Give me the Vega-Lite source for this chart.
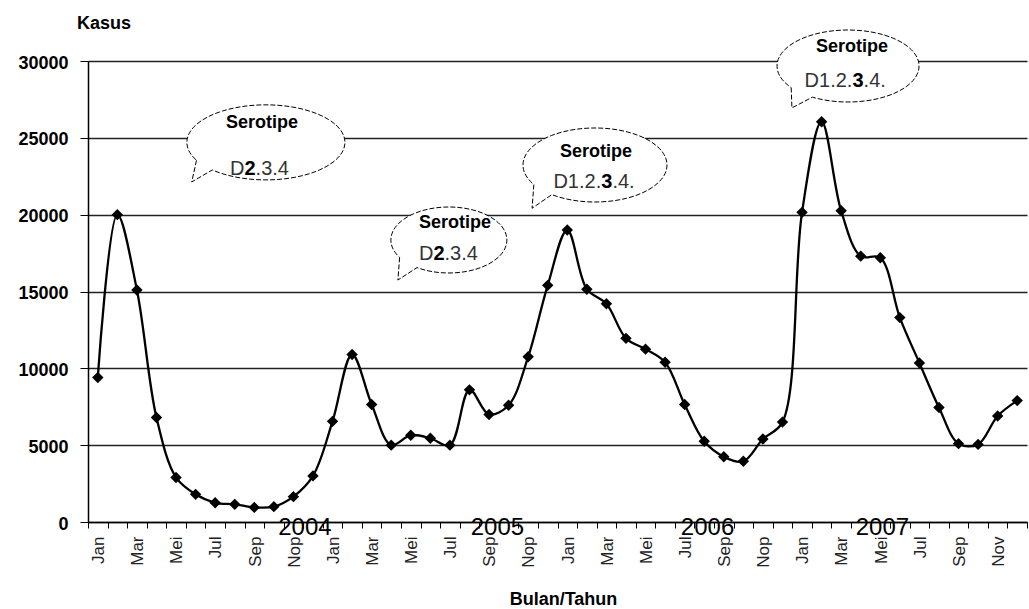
{
  "$schema": "https://vega.github.io/schema/vega-lite/v6.json",
  "width": 939,
  "height": 461,
  "autosize": {"type": "none"},
  "padding": {"left": 88, "top": 61, "right": 2, "bottom": 87},
  "background": "white",
  "config": {
    "view": {"stroke": null},
    "font": "Liberation Sans",
    "text": {"font": "Liberation Sans"}
  },
  "datasets": {
    "kasusbulan": [
      {"bulan": 0.5, "kasus": 9400},
      {"bulan": 1.5, "kasus": 20000},
      {"bulan": 2.5, "kasus": 15100},
      {"bulan": 3.5, "kasus": 6800},
      {"bulan": 4.5, "kasus": 2900},
      {"bulan": 5.5, "kasus": 1800},
      {"bulan": 6.5, "kasus": 1250},
      {"bulan": 7.5, "kasus": 1150},
      {"bulan": 8.5, "kasus": 950},
      {"bulan": 9.5, "kasus": 1000},
      {"bulan": 10.5, "kasus": 1650},
      {"bulan": 11.5, "kasus": 3000},
      {"bulan": 12.5, "kasus": 6550},
      {"bulan": 13.5, "kasus": 10900},
      {"bulan": 14.5, "kasus": 7650},
      {"bulan": 15.5, "kasus": 5000},
      {"bulan": 16.5, "kasus": 5650},
      {"bulan": 17.5, "kasus": 5450},
      {"bulan": 18.5, "kasus": 5000},
      {"bulan": 19.5, "kasus": 8600},
      {"bulan": 20.5, "kasus": 7000},
      {"bulan": 21.5, "kasus": 7600},
      {"bulan": 22.5, "kasus": 10750},
      {"bulan": 23.5, "kasus": 15400},
      {"bulan": 24.5, "kasus": 19000},
      {"bulan": 25.5, "kasus": 15150},
      {"bulan": 26.5, "kasus": 14200},
      {"bulan": 27.5, "kasus": 11950},
      {"bulan": 28.5, "kasus": 11250},
      {"bulan": 29.5, "kasus": 10400},
      {"bulan": 30.5, "kasus": 7650},
      {"bulan": 31.5, "kasus": 5250},
      {"bulan": 32.5, "kasus": 4250},
      {"bulan": 33.5, "kasus": 3950},
      {"bulan": 34.5, "kasus": 5400},
      {"bulan": 35.5, "kasus": 6500},
      {"bulan": 36.5, "kasus": 20150},
      {"bulan": 37.5, "kasus": 26050},
      {"bulan": 38.5, "kasus": 20250},
      {"bulan": 39.5, "kasus": 17300},
      {"bulan": 40.5, "kasus": 17200},
      {"bulan": 41.5, "kasus": 13300},
      {"bulan": 42.5, "kasus": 10350},
      {"bulan": 43.5, "kasus": 7450},
      {"bulan": 44.5, "kasus": 5100},
      {"bulan": 45.5, "kasus": 5050},
      {"bulan": 46.5, "kasus": 6900},
      {"bulan": 47.5, "kasus": 7900}
    ],
    "balon": [
      {"balon": "b1", "bulan": 9.10, "kasus": 24700},
      {"balon": "b2", "bulan": 18.45, "kasus": 18350},
      {"balon": "b3", "bulan": 25.92, "kasus": 23230},
      {"balon": "b4", "bulan": 38.85, "kasus": 29675}
    ],
    "judul": [
      {"bulan": 8.89, "kasus": 25640, "teks": "Serotipe"},
      {"bulan": 18.76, "kasus": 19130, "teks": "Serotipe"},
      {"bulan": 25.97, "kasus": 23750, "teks": "Serotipe"},
      {"bulan": 39.05, "kasus": 30590, "teks": "Serotipe"}
    ],
    "serotipe": [
      {"bulan": 8.28, "kasus": 22580, "depan": "D", "tebal": "2", "belakang": ".3.4"},
      {"bulan": 17.94, "kasus": 17050, "depan": "D", "tebal": "2", "belakang": ".3.4"},
      {"bulan": 26.52, "kasus": 21735, "depan": "D1.2.", "tebal": "3", "belakang": ".4."},
      {"bulan": 39.36, "kasus": 28310, "depan": "D1.2.", "tebal": "3", "belakang": ".4."}
    ],
    "tahun": [
      {"bulan": 11.09, "kasus": -846, "teks": "2004"},
      {"bulan": 20.93, "kasus": -846, "teks": "2005"},
      {"bulan": 31.67, "kasus": -846, "teks": "2006"},
      {"bulan": 40.61, "kasus": -846, "teks": "2007"}
    ]
  },
  "encoding": {
    "x": {
      "field": "bulan", "type": "quantitative",
      "scale": {"domain": [0, 48], "nice": false, "zero": false},
      "axis": {
        "title": "Bulan/Tahun",
        "titleFont": "Liberation Sans", "titleFontSize": 18, "titleFontWeight": "bold", "titleColor": "black",
        "titleX": 475, "titleY": 82, "titleBaseline": "alphabetic",
        "values": [0,1,2,3,4,5,6,7,8,9,10,11,12,13,14,15,16,17,18,19,20,21,22,23,24,25,26,27,28,29,30,31,32,33,34,35,36,37,38,39,40,41,42,43,44,45,46,47,48],
        "labelExpr": "datum.value >= 48 ? '' : (datum.value == 46 ? 'Nov' : ['Jan','','Mar','','Mei','','Jul','','Sep','','Nop',''][datum.value % 12])",
        "labelAngle": 270, "labelAlign": "right", "labelBaseline": "middle",
        "labelFont": "Liberation Sans", "labelFontSize": 17, "labelColor": "#222",
        "labelPadding": 8, "labelOverlap": false, "labelFlush": false, "labelBound": false,
        "labelOffset": 10.5,
        "tickSize": 6, "tickColor": "black", "tickWidth": 1,
        "domainColor": "black", "domainWidth": 1.5, "grid": false
      }
    },
    "y": {
      "field": "kasus", "type": "quantitative",
      "scale": {"domain": [0, 30000], "nice": false, "zero": false},
      "axis": {
        "title": "Kasus", "titleAngle": 0, "titleX": 15.5, "titleY": -33,
        "titleAlign": "center", "titleBaseline": "alphabetic",
        "titleFont": "Liberation Sans", "titleFontSize": 18, "titleFontWeight": "bold", "titleColor": "black",
        "values": [0, 5000, 10000, 15000, 20000, 25000, 30000],
        "format": "d",
        "labelFont": "Liberation Sans", "labelFontSize": 18, "labelFontWeight": "bold", "labelColor": "black",
        "labelPadding": 12, "labelOffset": 2,
        "tickSize": 8, "tickColor": "black", "tickWidth": 1,
        "domainColor": "black", "domainWidth": 1.5,
        "grid": true, "gridColor": "#222", "gridWidth": 1.3
      }
    }
  },
  "layer": [
    {
      "data": {"name": "balon"},
      "mark": {"type": "point", "filled": true, "fill": "white", "stroke": "black", "strokeWidth": 1, "strokeDash": [5, 2], "opacity": 1, "fillOpacity": 1},
      "encoding": {
        "shape": {
          "field": "balon", "type": "nominal", "legend": null,
          "scale": {
            "domain": ["b1", "b2", "b3", "b4"],
            "range": [
              "M -0.88 0.226 L -0.94 0.5 L -0.68 0.348 A 1 0.475 0 1 0 -0.88 0.226 Z",
              "M -0.85 0.3 L -0.88 0.69 L -0.55 0.475 A 1 0.569 0 1 0 -0.85 0.3 Z",
              "M -0.85 0.271 L -0.875 0.6 L -0.6 0.411 A 1 0.514 0 1 0 -0.85 0.271 Z",
              "M -0.8 0.304 L -0.79 0.59 L -0.5 0.439 A 1 0.507 0 1 0 -0.8 0.304 Z"
            ]
          }
        },
        "size": {
          "field": "balon", "type": "nominal", "legend": null,
          "scale": {"type": "ordinal", "domain": ["b1", "b2", "b3", "b4"], "range": [24964, 13456, 20736, 20164]}
        }
      }
    },
    {
      "data": {"name": "kasusbulan"},
      "mark": {"type": "line", "strokeWidth": 2.3, "color": "black", "interpolate": "catmull-rom"}
    },
    {
      "data": {"name": "kasusbulan"},
      "mark": {"type": "point", "shape": "diamond", "filled": true, "color": "black", "size": 130, "opacity": 1}
    },
    {
      "data": {"name": "judul"},
      "mark": {"type": "text", "font": "Liberation Sans", "fontSize": 18, "fontWeight": "bold", "color": "black", "baseline": "alphabetic", "align": "center"},
      "encoding": {"text": {"field": "teks"}}
    },
    {
      "data": {"name": "serotipe"},
      "mark": {"type": "text", "font": "Liberation Sans", "fontSize": 20, "color": "#333", "baseline": "alphabetic", "align": "right", "dx": -5.6},
      "encoding": {"text": {"field": "depan"}}
    },
    {
      "data": {"name": "serotipe"},
      "mark": {"type": "text", "font": "Liberation Sans", "fontSize": 20, "fontWeight": "bold", "color": "black", "baseline": "alphabetic", "align": "center"},
      "encoding": {"text": {"field": "tebal"}}
    },
    {
      "data": {"name": "serotipe"},
      "mark": {"type": "text", "font": "Liberation Sans", "fontSize": 20, "color": "#333", "baseline": "alphabetic", "align": "left", "dx": 5.6},
      "encoding": {"text": {"field": "belakang"}}
    },
    {
      "data": {"name": "tahun"},
      "mark": {"type": "text", "font": "Liberation Sans", "fontSize": 24, "color": "black", "baseline": "alphabetic", "align": "center"},
      "encoding": {"text": {"field": "teks"}}
    }
  ]
}
